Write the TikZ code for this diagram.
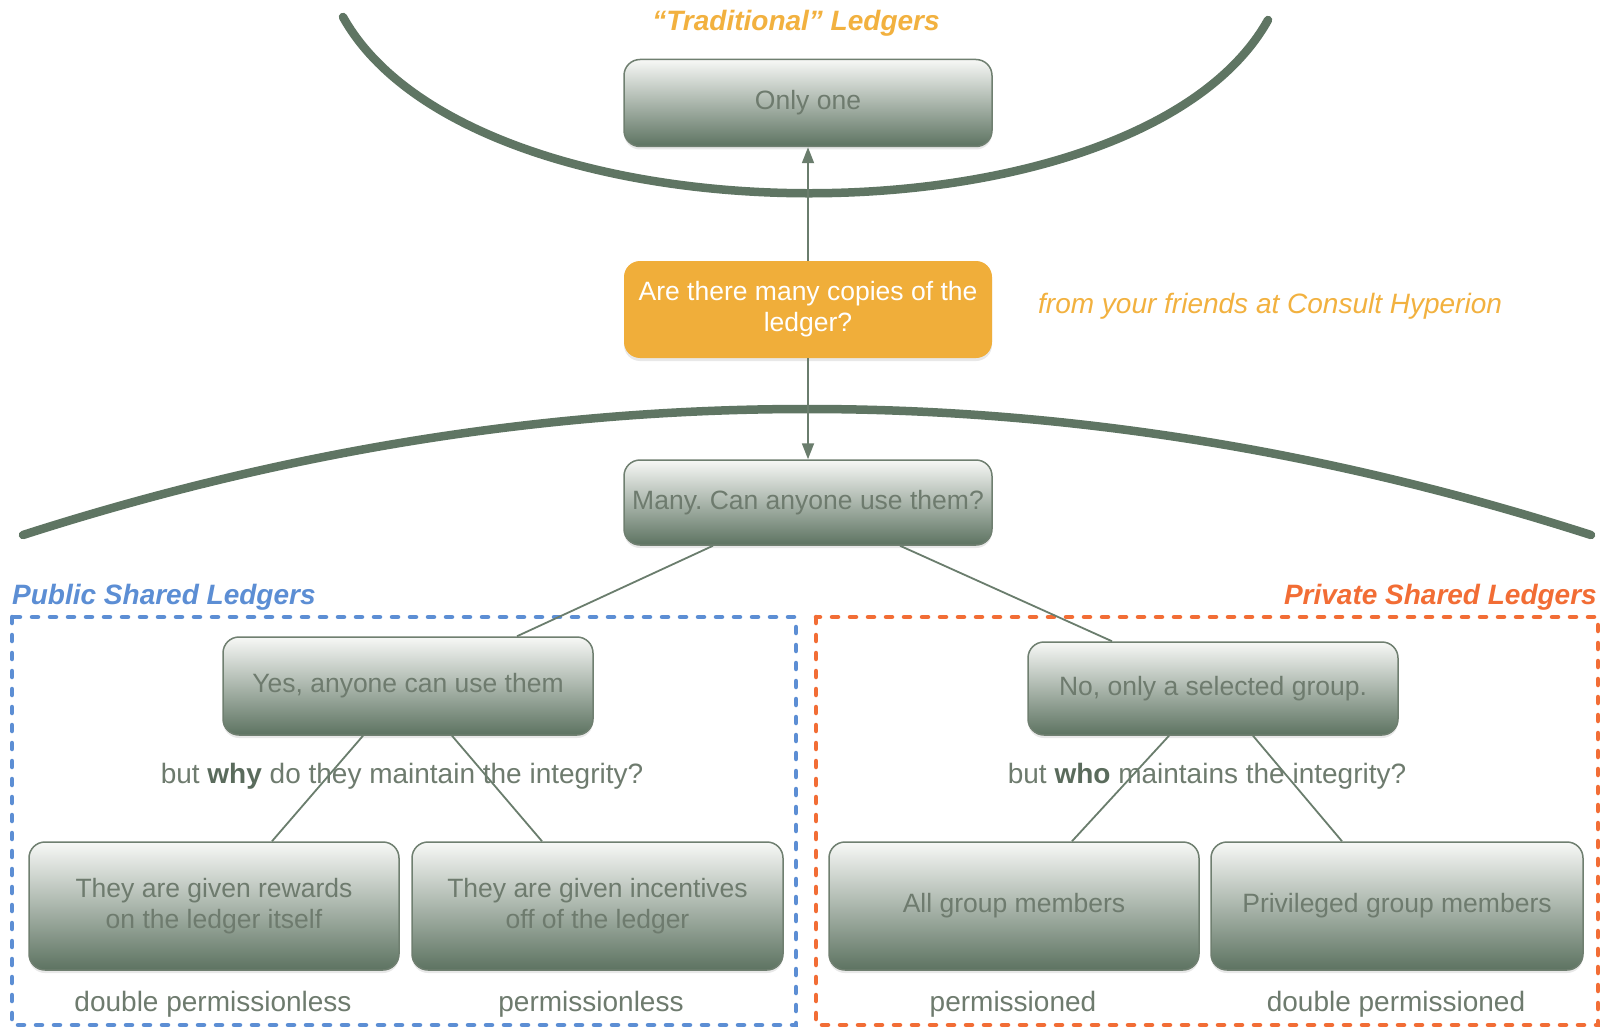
\documentclass[tikz,border=0pt]{standalone}
\usepackage{fontspec}
\setmainfont{Liberation Sans}
\usetikzlibrary{arrows.meta,calc,shadows}
\definecolor{arcc}{HTML}{5F7563}
\definecolor{linec}{HTML}{6A7D6D}
\definecolor{boxtop}{HTML}{F7F8F6}
\definecolor{boxmid}{HTML}{BCC4BB}
\definecolor{boxbot}{HTML}{5D7361}
\definecolor{boxline}{HTML}{6F7F70}
\definecolor{txt}{HTML}{6E7B6E}
\definecolor{txtdark}{HTML}{5A6B5C}
\definecolor{qorange}{HTML}{F0AE3A}
\definecolor{lorange}{HTML}{F2B13F}
\definecolor{pblue}{HTML}{5C8ED4}
\definecolor{pred}{HTML}{F26D35}
\tikzset{
  gbox/.style={draw=boxline, line width=1.5pt, rounded corners=16pt,
    top color=boxtop, middle color=boxmid, bottom color=boxbot,
    text=txt, font=\fontsize{26.5}{31}\selectfont, align=center,
    inner sep=0pt, drop shadow={opacity=0.18, shadow xshift=0pt, shadow yshift=-3pt}},
  qbox/.style={fill=qorange, rounded corners=16pt, text=white,
    font=\fontsize{26.5}{31}\selectfont, align=center, inner sep=0pt,
    drop shadow={opacity=0.18, shadow xshift=0pt, shadow yshift=-3pt}},
  conn/.style={draw=linec, line width=1.8pt},
  arr/.style={conn, -{Triangle[width=12pt,length=16pt]}},
  bigarc/.style={draw=arcc, line width=8.5pt, line cap=round},
  plain/.style={text=txt, font=\fontsize{28}{33}\selectfont, inner sep=0pt},
  title/.style={font=\fontsize{28}{33}\selectfont\bfseries\itshape, inner sep=0pt},
  dashbox/.style={line width=4.5pt, line cap=round, dash pattern=on 6pt off 12pt}
}
\begin{document}
\frenchspacing
\begin{tikzpicture}[x=1pt,y=-1pt]
\useasboundingbox[fill=white] (0,0) rectangle (1604,1030);

% arcs
\draw[bigarc] (343,17) .. controls (473,250) and (1138,253) .. (1268,20);
\draw[bigarc] (23,535) .. controls (546,367) and (1068,367) .. (1591,535);

% dashed group frames
\draw[dashbox, draw=pblue] (12,617) rectangle (796,1025);
\draw[dashbox, draw=pred] (816,617) rectangle (1598,1025);

% titles
\node[title, text=lorange] (trad) at (796,23) {“Traditional” Ledgers};
\node[font=\fontsize{28}{33}\selectfont\itshape, text=lorange, anchor=west, inner sep=0pt] (friends) at (1038,306) {from your friends at Consult Hyperion};
\node[title, text=pblue, anchor=west] (pub) at (12,597) {Public Shared Ledgers};
\node[title, text=pred, anchor=east] (priv) at (1597,597) {Private Shared Ledgers};

% boxes
\node[gbox, minimum width=368pt, minimum height=87pt] (only) at (808,103) {Only one};
\node[qbox, minimum width=368pt, minimum height=97pt] (q) at (808,309.5) {Are there many copies of the\\ledger?};
\node[gbox, minimum width=368pt, minimum height=85pt] (many) at (808,502.5) {Many. Can anyone use them?};
\node[gbox, minimum width=370pt, minimum height=98pt] (yes) at (408,686) {Yes, anyone can use them};
\node[gbox, minimum width=370pt, minimum height=93pt] (no) at (1213,688.5) {No, only a selected group.};
\node[gbox, minimum width=370pt, minimum height=128pt] (b1) at (214,906) {They are given rewards\\on the ledger itself};
\node[gbox, minimum width=371pt, minimum height=128pt] (b2) at (597.5,906) {They are given incentives\\off of the ledger};
\node[gbox, minimum width=370pt, minimum height=128pt] (b3) at (1014,906) {All group members};
\node[gbox, minimum width=372pt, minimum height=128pt] (b4) at (1397,906) {Privileged group members};

% connectors
\draw[arr] (q.north) -- (only.south);
\draw[arr] (q.south) -- (many.north);
\draw[conn] ($(many.south)+(-95,0)$) -- ($(yes.north)+(109,0)$);
\draw[conn] ($(many.south)+(92,0)$) -- ($(no.north)+(-101,0)$);

% question labels
\node[plain] (why) at (402,776) {but \textbf{\color{txtdark}why} do they maintain the integrity?};
\node[plain] (who) at (1207,776) {but \textbf{\color{txtdark}who} maintains the integrity?};

\draw[conn] ($(yes.south)+(-45,0)$) -- ($(b1.north)+(58,0)$);
\draw[conn] ($(yes.south)+(44,0)$) -- ($(b2.north)+(-55.5,0)$);
\draw[conn] ($(no.south)+(-44,0)$) -- ($(b3.north)+(58,0)$);
\draw[conn] ($(no.south)+(40,0)$) -- ($(b4.north)+(-55,0)$);

% bottom labels
\node[plain] (l1) at (213,1004) {double permissionless};
\node[plain] (l2) at (591,1004) {permissionless};
\node[plain] (l3) at (1013,1004) {permissioned};
\node[plain] (l4) at (1396,1004) {double permissioned};
\end{tikzpicture}
\end{document}
